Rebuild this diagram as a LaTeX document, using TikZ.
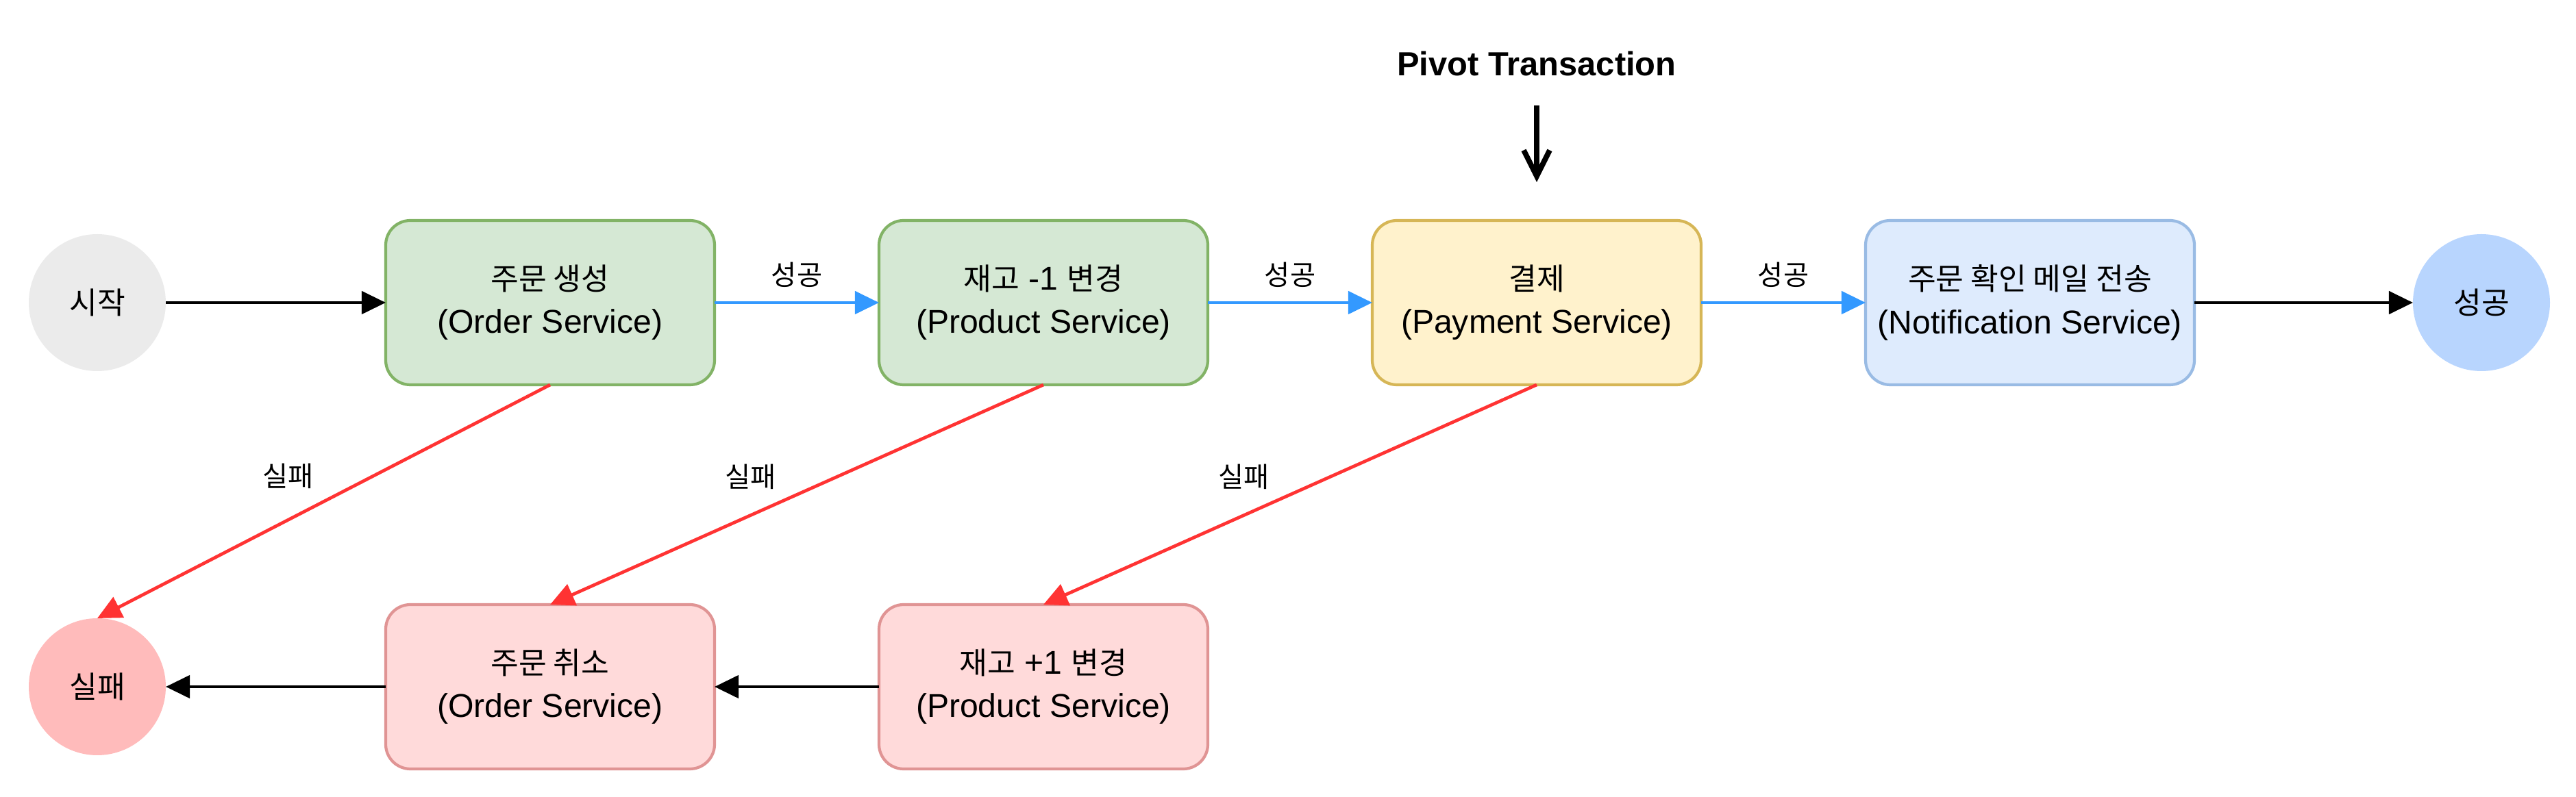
\documentclass[tikz,border=0pt]{standalone}
\usepackage{fontspec}
\setmainfont{Liberation Sans}
\newfontfamily\kr[Scale=0.92]{Noto Sans CJK KR}
\usepackage{xcolor}
\usetikzlibrary{arrows.meta}
\usetikzlibrary{positioning}
\definecolor{startgray}{HTML}{EBEBEB}
\definecolor{okblue}{HTML}{B8D5FE}
\definecolor{failred}{HTML}{FFBBBB}
\definecolor{greenfill}{HTML}{D5E8D4}
\definecolor{greenline}{HTML}{82B366}
\definecolor{yellowfill}{HTML}{FFF2CC}
\definecolor{yellowline}{HTML}{D6B656}
\definecolor{bluefill}{HTML}{DEEBFD}
\definecolor{blueline}{HTML}{99BBE4}
\definecolor{redfill}{HTML}{FFDADA}
\definecolor{redline}{HTML}{E09494}
\definecolor{goarrow}{HTML}{3399FF}
\definecolor{backarrow}{HTML}{FF3333}
\begin{document}
\begin{tikzpicture}[-,>={Triangle[length=10pt,width=9.4pt]},node distance=2.4cm,line width=1.35pt,font=\fontsize{13.7}{18}\selectfont]
	\tikzstyle{box}=[draw, rounded corners=0.36cm, line width=1.2pt, minimum width=4.8cm, minimum height=2.4cm, inner sep=0pt, outer sep=0pt, align=center]
	\tikzstyle{term}=[circle, minimum size=2cm, inner sep=0pt, outer sep=0pt]
	\tikzstyle{lbl}=[font=\fontsize{12.5}{14}\selectfont\kr, text=black, inner sep=0pt]
	\tikzstyle{ok}=[->, color=goarrow]
	\tikzstyle{fail}=[->, color=backarrow]
	\useasboundingbox (-1.42,-7.22) rectangle (36.18,4.42);
		\node[term, fill=startgray]			(S) at (0,0)			{\kr 시작};
		\node[box, fill=greenfill, draw=greenline]	(C) [right=3.21cm of S]	{{\kr 주문 생성}\\(Order Service)};
		\node[box, fill=greenfill, draw=greenline]	(R) [right=2.4cm of C]	{{\kr 재고} -1 {\kr 변경}\\(Product Service)};
		\node[box, fill=yellowfill, draw=yellowline]	(P) [right=2.4cm of R]	{{\kr 결제}\\(Payment Service)};
		\node[box, fill=bluefill, draw=blueline]	(N) [right=2.4cm of P]	{{\kr 주문 확인 메일 전송}\\(Notification Service)};
		\node[term, fill=okblue]			(OK) [right=3.19cm of N]	{\kr 성공};
		\node[box, fill=redfill, draw=redline]		(X) [below=3.21cm of C]	{{\kr 주문 취소}\\(Order Service)};
		\node[box, fill=redfill, draw=redline]		(Y) [below=3.21cm of R]	{{\kr 재고} +1 {\kr 변경}\\(Product Service)};
		\node[term, fill=failred]			(F) [left=3.21cm of X]	{\kr 실패};
		\node[font=\fontsize{13.9}{16}\selectfont\bfseries, inner sep=0pt]	(T) [above=2.09cm of P]	{Pivot Transaction};
		\path
			(S) edge[->] (C)
			(C) edge[ok] node[lbl, midway, yshift=0.41cm] {성공} (R)
			(R) edge[ok] node[lbl, midway, yshift=0.41cm] {성공} (P)
			(P) edge[ok] node[lbl, midway, yshift=0.41cm] {성공} (N)
			(N) edge[->] (OK)
			(C.south) edge[fail] node[lbl, pos=0.39, xshift=-1.25cm] {실패} (F.north)
			(R.south) edge[fail] node[lbl, pos=0.42, xshift=-1.25cm] {실패} (X.north)
			(P.south) edge[fail] node[lbl, pos=0.42, xshift=-1.25cm] {실패} (Y.north)
			(Y) edge[->] (X)
			(X) edge[->] (F)
			(T) edge[-{Straight Barb[length=10.8pt,width=10.8pt]}, line width=2.2pt, shorten <=0.41cm, shorten >=0.56cm] (P);
\end{tikzpicture}
\end{document}
